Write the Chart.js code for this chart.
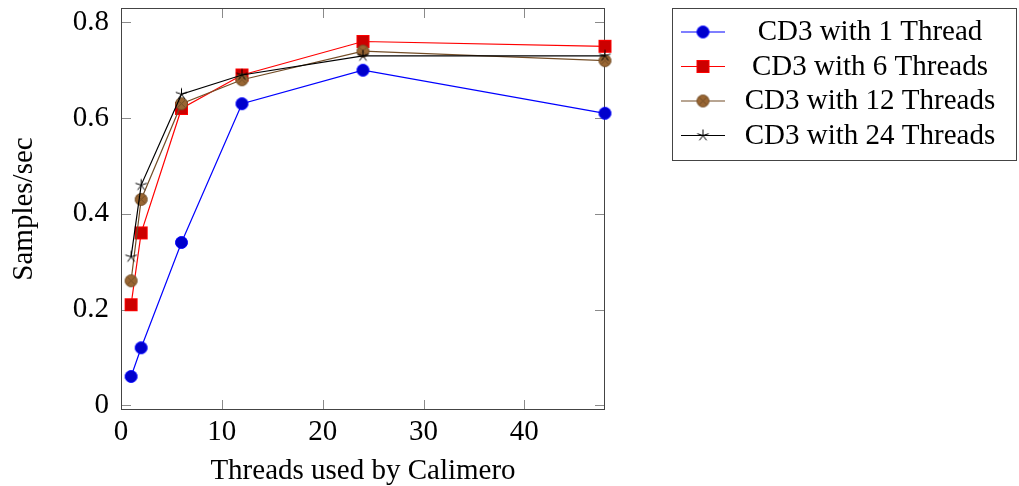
<!DOCTYPE html>
<html>
<head>
<meta charset="utf-8">
<title>CD3 throughput</title>
<script src="https://cdn.jsdelivr.net/npm/chart.js@4.4.1/dist/chart.umd.min.js"></script>
<style>
  html, body { margin: 0; padding: 0; background: #fff; }
  #wrap { width: 1019px; height: 486px; }
</style>
</head>
<body>
<div id="wrap"><canvas id="throughput" width="1019" height="486"></canvas></div>
<script>
// --- data ---
const threads = [1, 2, 6, 12, 24, 48];
const oneThread = [0.06, 0.12, 0.34, 0.63, 0.70, 0.61];
const sixThreads = [0.21, 0.36, 0.62, 0.69, 0.76, 0.75];
const twelveThreads = [0.26, 0.43, 0.63, 0.68, 0.74, 0.72];
const twentyFourThreads = [0.31, 0.46, 0.65, 0.69, 0.73, 0.73];
const seriesLabels = ['CD3 with 1 Thread', 'CD3 with 6 Threads', 'CD3 with 12 Threads', 'CD3 with 24 Threads'];
const xTicks = [0, 10, 20, 30, 40];
const yTicks = [0, 0.2, 0.4, 0.6, 0.8];
const xTitle = 'Threads used by Calimero';
const yTitle = 'Samples/sec';

const FONT = "'Liberation Serif', 'Times New Roman', serif";
const FONT_SIZE = 29;
const TICK_LEN = 10;

// pgfplots-like marks, drawn once on small canvases and used as pointStyle
function markImage(shape, stroke, fill) {
    const c = document.createElement('canvas');
    c.width = c.height = 17;
    const g = c.getContext('2d');
    const m = 8.5, r = 6;
    g.lineWidth = 1;
    g.strokeStyle = stroke;
    g.fillStyle = fill;
    if (shape === 'circle' || shape === 'otimes') {
        g.beginPath();
        g.arc(m, m, r, 0, Math.PI * 2);
        g.fill();
        g.stroke();
        if (shape === 'otimes') {
            const d = r * 0.7;
            g.beginPath();
            g.moveTo(m - d, m - d); g.lineTo(m + d, m + d);
            g.moveTo(m + d, m - d); g.lineTo(m - d, m + d);
            g.stroke();
        }
    } else if (shape === 'square') {
        g.fillRect(m - r, m - r, 2 * r, 2 * r);
        g.strokeRect(m - r, m - r, 2 * r, 2 * r);
    } else if (shape === 'star') {
        g.beginPath();
        for (let k = 0; k < 5; k++) {
            const a = -Math.PI / 2 + k * 2 * Math.PI / 5;
            g.moveTo(m, m);
            g.lineTo(m + r * Math.cos(a), m + r * Math.sin(a));
        }
        g.stroke();
    }
    return c;
}

const styles = [
    { line: '#0000ff', mark: markImage('circle', '#0000ff', '#0000cc') },
    { line: '#ff0000', mark: markImage('square', '#ff0000', '#cc0000') },
    { line: '#734d26', mark: markImage('otimes', '#734d26', '#996633') },
    { line: '#000000', mark: markImage('star', '#000000', '#000000') }
];

const values = [oneThread, sixThreads, twelveThreads, twentyFourThreads];

const datasets = values.map((vals, i) => ({
    label: seriesLabels[i],
    data: threads.map((t, j) => ({ x: t, y: vals[j] })),
    borderColor: styles[i].line,
    backgroundColor: styles[i].line,
    borderWidth: 1.2,
    pointStyle: styles[i].mark,
    pointRadius: 6,
    pointHoverRadius: 6,
    tension: 0,
    clip: false,
    order: values.length - 1 - i // later series on top
}));

// frame with inward, mirrored tick marks
const axisFrame = {
    id: 'axisFrame',
    beforeDatasetsDraw(chart) {
        const { ctx, chartArea: a, scales: { x, y } } = chart;
        ctx.save();
        ctx.lineWidth = 1;
        ctx.strokeStyle = '#8a8a8a';
        ctx.beginPath();
        xTicks.forEach(v => {
            const px = Math.round(x.getPixelForValue(v)) + 0.5;
            ctx.moveTo(px, a.bottom); ctx.lineTo(px, a.bottom - TICK_LEN);
            ctx.moveTo(px, a.top); ctx.lineTo(px, a.top + TICK_LEN);
        });
        yTicks.forEach(v => {
            const py = Math.round(y.getPixelForValue(v)) + 0.5;
            ctx.moveTo(a.left, py); ctx.lineTo(a.left + TICK_LEN, py);
            ctx.moveTo(a.right, py); ctx.lineTo(a.right - TICK_LEN, py);
        });
        ctx.stroke();
        ctx.strokeStyle = '#444';
        ctx.strokeRect(a.left + 0.5, a.top + 0.5, a.right - a.left - 1, a.bottom - a.top - 1);
        ctx.restore();
    }
};

// boxed legend to the right of the plot, line + mark + centred label
const boxedLegend = {
    id: 'boxedLegend',
    afterDraw(chart, args, opts) {
        const { ctx } = chart;
        ctx.save();
        ctx.lineWidth = 1;
        ctx.strokeStyle = '#444';
        ctx.strokeRect(opts.left + 0.5, opts.top + 0.5, opts.width, opts.height);
        chart.data.datasets.forEach((ds, i) => {
            const cy = opts.firstRow + i * opts.rowGap;
            ctx.strokeStyle = ds.borderColor;
            ctx.lineWidth = ds.borderWidth;
            ctx.beginPath();
            ctx.moveTo(opts.left + 9, cy);
            ctx.lineTo(opts.left + 53, cy);
            ctx.stroke();
            const img = ds.pointStyle;
            ctx.drawImage(img, opts.left + 31 - img.width / 2, cy - img.height / 2);
            ctx.fillStyle = '#000';
            ctx.font = FONT_SIZE + 'px ' + FONT;
            ctx.textAlign = 'center';
            ctx.textBaseline = 'alphabetic';
            ctx.fillText(ds.label, opts.textCenter, cy + 8);
        });
        ctx.restore();
    }
};

new Chart(document.getElementById('throughput'), {
    type: 'line',
    data: { datasets },
    plugins: [axisFrame, boxedLegend],
    options: {
        responsive: false,
        animation: false,
        layout: { padding: { top: 8, right: 414, bottom: 0, left: 0 } },
        plugins: {
            legend: { display: false },
            tooltip: { enabled: false },
            boxedLegend: { left: 672, top: 8, width: 344, height: 152, firstRow: 32, rowGap: 34.5, textCenter: 870 }
        },
        scales: {
            x: {
                type: 'linear',
                min: 0,
                max: 48,
                afterBuildTicks: s => { s.ticks = xTicks.map(v => ({ value: v })); },
                afterFit: s => { s.height = 76; s.paddingLeft = 0; s.paddingRight = 0; },
                grid: { display: false, drawTicks: false },
                border: { display: false },
                ticks: {
                    padding: 8,
                    color: '#000',
                    maxRotation: 0,
                    font: { family: FONT, size: FONT_SIZE, lineHeight: 1 }
                },
                title: {
                    display: true,
                    text: xTitle,
                    color: '#000',
                    padding: { top: 0, bottom: 0 },
                    font: { family: FONT, size: FONT_SIZE, lineHeight: 1 }
                }
            },
            y: {
                type: 'linear',
                min: -0.01,
                max: 0.83,
                afterBuildTicks: s => { s.ticks = yTicks.map(v => ({ value: v })); },
                afterFit: s => { s.width = 121; s.paddingTop = 0; s.paddingBottom = 0; },
                grid: { display: false, drawTicks: false },
                border: { display: false },
                ticks: {
                    padding: 12,
                    color: '#000',
                    font: { family: FONT, size: FONT_SIZE, lineHeight: 1 },
                    callback: v => v === 0 ? '0' : v.toFixed(1)
                },
                title: {
                    display: true,
                    text: yTitle,
                    color: '#000',
                    padding: { top: 9.5, bottom: 0 },
                    font: { family: FONT, size: FONT_SIZE, lineHeight: 1 }
                }
            }
        }
    }
});
</script>
</body>
</html>
